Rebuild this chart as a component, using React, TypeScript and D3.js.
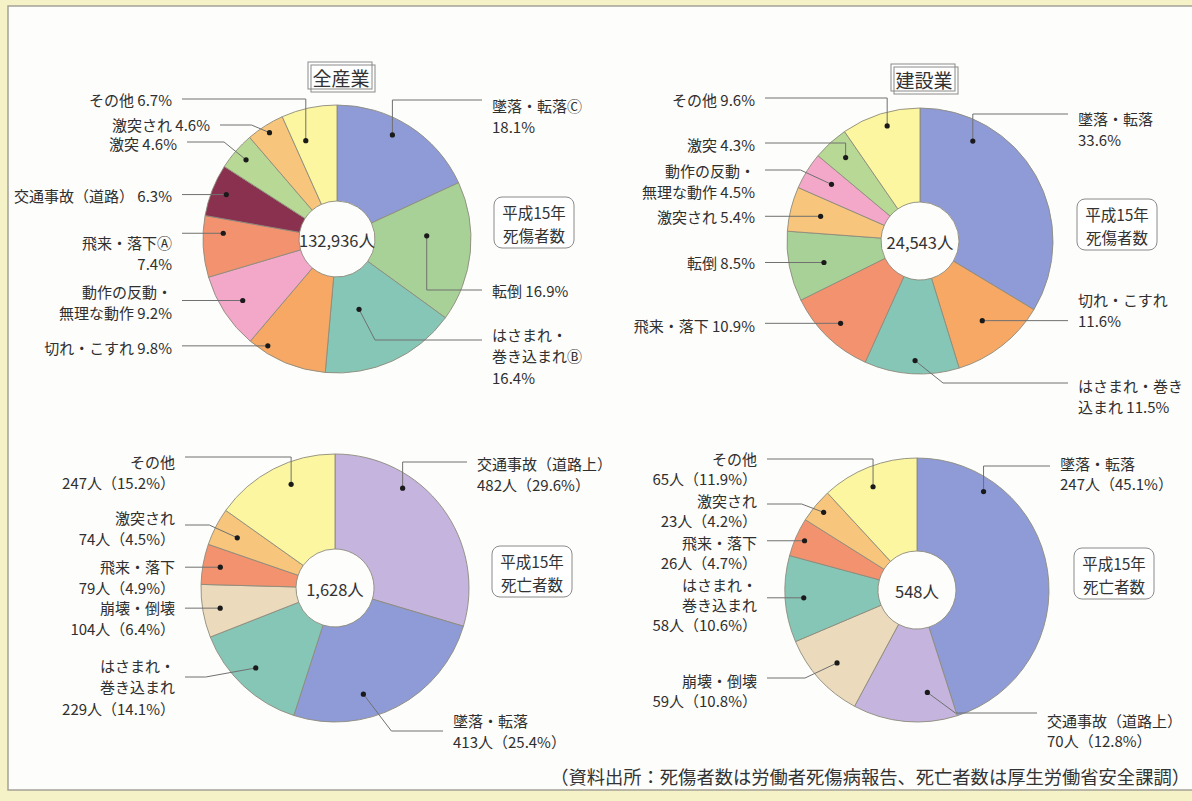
import React from 'react';
import * as d3 from 'd3';

const FONT = '"Noto Sans CJK JP", "Noto Sans", sans-serif';

// ---------- DATA ----------
// 全産業 死傷者数 (平成15年)
const allInjuryCategories = ['墜落・転落', '転倒', 'はさまれ・巻き込まれ', '切れ・こすれ', '動作の反動・無理な動作', '飛来・落下', '交通事故（道路）', '激突', '激突され', 'その他'];
const allInjuryPct = [18.1, 16.9, 16.4, 9.8, 9.2, 7.4, 6.3, 4.6, 4.6, 6.7];
const allInjuryLabels = [['墜落・転落Ⓒ', '{p}%'], ['転倒 {p}%'], ['はさまれ・', '巻き込まれⒷ', '{p}%'], ['切れ・こすれ {p}%'], ['動作の反動・', '無理な動作 {p}%'], ['飛来・落下Ⓐ', '{p}%'], ['交通事故（道路） {p}%'], ['激突 {p}%'], ['激突され {p}%'], ['その他 {p}%']];
const allInjuryTotal = '132,936人';

// 建設業 死傷者数
const conInjuryCategories = ['墜落・転落', '切れ・こすれ', 'はさまれ・巻き込まれ', '飛来・落下', '転倒', '激突され', '動作の反動・無理な動作', '激突', 'その他'];
const conInjuryPct = [33.6, 11.6, 11.5, 10.9, 8.5, 5.4, 4.5, 4.3, 9.6];
const conInjuryLabels = [['墜落・転落', '{p}%'], ['切れ・こすれ', '{p}%'], ['はさまれ・巻き', '込まれ {p}%'], ['飛来・落下 {p}%'], ['転倒 {p}%'], ['激突され {p}%'], ['動作の反動・', '無理な動作 {p}%'], ['激突 {p}%'], ['その他 {p}%']];
const conInjuryTotal = '24,543人';

// 全産業 死亡者数
const allDeathCategories = ['交通事故（道路上）', '墜落・転落', 'はさまれ・巻き込まれ', '崩壊・倒壊', '飛来・落下', '激突され', 'その他'];
const allDeathCounts = [482, 413, 229, 104, 79, 74, 247];
const allDeathPct = [29.6, 25.4, 14.1, 6.4, 4.9, 4.5, 15.2];
const allDeathLabels = [['交通事故（道路上）', '{n}人（{p}%）'], ['墜落・転落', '{n}人（{p}%）'], ['はさまれ・', '巻き込まれ', '{n}人（{p}%）'], ['崩壊・倒壊', '{n}人（{p}%）'], ['飛来・落下', '{n}人（{p}%）'], ['激突され', '{n}人（{p}%）'], ['その他', '{n}人（{p}%）']];

// 建設業 死亡者数
const conDeathCategories = ['墜落・転落', '交通事故（道路上）', '崩壊・倒壊', 'はさまれ・巻き込まれ', '飛来・落下', '激突され', 'その他'];
const conDeathCounts = [247, 70, 59, 58, 26, 23, 65];
const conDeathPct = [45.1, 12.8, 10.8, 10.6, 4.7, 4.2, 11.9];
const conDeathLabels = [['墜落・転落', '{n}人（{p}%）'], ['交通事故（道路上）', '{n}人（{p}%）'], ['崩壊・倒壊', '{n}人（{p}%）'], ['はさまれ・', '巻き込まれ', '{n}人（{p}%）'], ['飛来・落下', '{n}人（{p}%）'], ['激突され', '{n}人（{p}%）'], ['その他', '{n}人（{p}%）']];

const boxInjury = ['平成15年', '死傷者数'];
const boxDeath = ['平成15年', '死亡者数'];
const sourceNote = '（資料出所：死傷者数は労働者死傷病報告、死亡者数は厚生労働省安全課調）';

// ---------- STYLES ----------
const colorByCategory: Record<string, string> = {
  '墜落・転落': '#8f9bd7',
  '転倒': '#a8d198',
  'はさまれ・巻き込まれ': '#86c6b7',
  '切れ・こすれ': '#f6a864',
  '動作の反動・無理な動作': '#f3a8c9',
  '飛来・落下': '#f3926f',
  '交通事故（道路）': '#8b3150',
  '交通事故（道路上）': '#c4b4de',
  '激突': '#b8d996',
  '激突され': '#f7c57b',
  'その他': '#fbf69f',
  '崩壊・倒壊': '#ebdabc',
};

// ---------- LAYOUT (label placement, relative to pie centre) ----------
type L = { side: 'L' | 'R'; ly: number | null; bend: number; tx: number; ty: number; df: number; dr: number };
const layoutTL: L[] = [
  { side: 'R', ly: -139, bend: 0, tx: 155, ty: -134, df: 0.43, dr: 0.88 },
  { side: 'R', ly: 51, bend: 0, tx: 155, ty: 51, df: 0.375, dr: 0.67 },
  { side: 'R', ly: 101, bend: 16, tx: 155, ty: 95, df: 0.62, dr: 0.55 },
  { side: 'L', ly: null, bend: 0, tx: -165, ty: 108, df: 0.79, dr: 0.95 },
  { side: 'L', ly: null, bend: 0, tx: -165, ty: 52, df: 0.5, dr: 0.84 },
  { side: 'L', ly: null, bend: 0, tx: -165, ty: 3, df: 0.73, dr: 0.85 },
  { side: 'L', ly: null, bend: 0, tx: -165, ty: -44, df: 0.52, dr: 0.89 },
  { side: 'L', ly: -97, bend: -22, tx: -160, ty: -96, df: 0.5, dr: 0.9 },
  { side: 'L', ly: -114, bend: -18, tx: -127, ty: -115, df: 0.5, dr: 0.94 },
  { side: 'L', ly: -140, bend: 0, tx: -165, ty: -140, df: 0.27, dr: 0.77 },
];
const layoutTR: L[] = [
  { side: 'R', ly: -127, bend: 0, tx: 158, ty: -123, df: 0.23, dr: 0.85 },
  { side: 'R', ly: null, bend: 0, tx: 158, ty: 58, df: 0.5, dr: 0.76 },
  { side: 'R', ly: 142, bend: 28, tx: 158, ty: 144, df: 0.47, dr: 0.9 },
  { side: 'L', ly: null, bend: 0, tx: -165, ty: 84, df: 0.5, dr: 0.86 },
  { side: 'L', ly: null, bend: 0, tx: -165, ty: 21, df: 0.45, dr: 0.74 },
  { side: 'L', ly: null, bend: 0, tx: -165, ty: -25, df: 0.5, dr: 0.77 },
  { side: 'L', ly: -71, bend: -31, tx: -165, ty: -71, df: 0.55, dr: 0.79 },
  { side: 'L', ly: -98, bend: 0, tx: -165, ty: -97, df: 0.54, dr: 0.84 },
  { side: 'L', ly: -143, bend: 0, tx: -165, ty: -142, df: 0.54, dr: 0.9 },
];
const layoutBL: L[] = [
  { side: 'R', ly: -126, bend: 0, tx: 142, ty: -125, df: 0.32, dr: 0.9 },
  { side: 'R', ly: 143, bend: 28, tx: 118, ty: 132, df: 0.64, dr: 0.82 },
  { side: 'L', ly: 89, bend: -50, tx: -160, ty: 77, df: 0.53, dr: 0.84 },
  { side: 'L', ly: null, bend: 0, tx: -160, ty: 19, df: 0.5, dr: 0.87 },
  { side: 'L', ly: null, bend: 0, tx: -160, ty: -22, df: 0.5, dr: 0.87 },
  { side: 'L', ly: -63, bend: -28, tx: -160, ty: -71, df: 0.5, dr: 0.82 },
  { side: 'L', ly: -131, bend: 0, tx: -160, ty: -127, df: 0.58, dr: 0.84 },
];
const layoutBR: L[] = [
  { side: 'R', ly: -124, bend: 0, tx: 143, ty: -127, df: 0.21, dr: 0.9 },
  { side: 'R', ly: 123, bend: 28, tx: 130, ty: 130, df: 0.26, dr: 0.78 },
  { side: 'L', ly: 88, bend: -32, tx: -160, ty: 90, df: 0.5, dr: 0.82 },
  { side: 'L', ly: null, bend: 0, tx: -160, ty: -6, df: 0.5, dr: 0.86 },
  { side: 'L', ly: null, bend: 0, tx: -160, ty: -48, df: 0.5, dr: 0.93 },
  { side: 'L', ly: -86, bend: -22, tx: -160, ty: -90, df: 0.5, dr: 0.92 },
  { side: 'L', ly: -131, bend: 0, tx: -160, ty: -132, df: 0.46, dr: 0.85 },
];

type PieProps = {
  cx: number; cy: number; R: number; r0: number; lineH: number;
  cats: string[]; values: number[]; pct: number[]; counts?: number[];
  labels: string[][]; layout: L[]; center: string; box: string[]; title?: string;
};

function fmt(t: string, p: number, n?: number) {
  return t.replace('{p}', p.toFixed(1)).replace('{n}', n !== undefined ? String(n) : '');
}

function Pie({ cx, cy, R, r0, lineH, cats, values, pct, counts, labels, layout, center, box, title }: PieProps) {
  const pie = d3.pie<number>().sort(null).value((d) => d)(values);
  const arc = d3.arc<d3.PieArcDatum<number>>().innerRadius(r0).outerRadius(R);
  return (
    <g>
      <g transform={`translate(${cx},${cy})`}>
        {pie.map((p, i) => (
          <path key={i} d={arc(p) || ''} fill={colorByCategory[cats[i]]} stroke="#8d8b7c" strokeWidth={0.9} />
        ))}
      </g>
      <text x={cx} y={cy + 1} textAnchor="middle" dominantBaseline="central" fontSize={16.5} fill="#333" fontFamily={FONT}>{center}</text>
      {pie.map((p, i) => {
        const lay = layout[i];
        const a = p.startAngle + lay.df * (p.endAngle - p.startAngle);
        const rr = lay.dr * R;
        const dx = cx + rr * Math.sin(a);
        const dy = cy - rr * Math.cos(a);
        const endX = lay.side === 'L' ? cx + lay.tx + 10 : cx + lay.tx - 10;
        let pts: [number, number][];
        if (lay.ly === null) pts = [[dx, dy], [endX, dy]];
        else pts = [[dx, dy], [dx + lay.bend, cy + lay.ly], [endX, cy + lay.ly]];
        const line = d3.line()(pts) || '';
        return (
          <g key={i}>
            <path d={line} fill="none" stroke="#707070" strokeWidth={1} />
            <circle cx={dx} cy={dy} r={2.6} fill="#1a1a1a" />
            {labels[i].map((t, j) => (
              <text key={j} x={cx + lay.tx} y={cy + lay.ty + j * lineH} textAnchor={lay.side === 'L' ? 'end' : 'start'} dominantBaseline="central" fontSize={15} fill="#2f2f2f" fontFamily={FONT}>
                {fmt(t, pct[i], counts ? counts[i] : undefined)}
              </text>
            ))}
          </g>
        );
      })}
      <rect x={cx + 157} y={cy - 42} width={80} height={51} rx={8} fill="#fff" stroke="#8a8a8a" strokeWidth={1} />
      {box.map((t, j) => (
        <text key={j} x={cx + 197} y={cy - 27 + j * 23} textAnchor="middle" dominantBaseline="central" fontSize={15.5} fill="#333" fontFamily={FONT}>{t}</text>
      ))}
      {title && (
        <g>
          <rect x={cx - 29} y={cy - 177} width={64} height={27} fill="#fff" stroke="#8a8a8a" strokeWidth={1} />
          <rect x={cx - 26} y={cy - 174} width={64} height={27} fill="none" stroke="#8a8a8a" strokeWidth={1} />
          <text x={cx + 4} y={cy - 162} textAnchor="middle" dominantBaseline="central" fontSize={19} fill="#333" fontFamily={FONT}>{title}</text>
        </g>
      )}
    </g>
  );
}

export default function App() {
  return (
    <svg width={1192} height={801} style={{ position: 'absolute', left: 0, top: 0 }} xmlns="http://www.w3.org/2000/svg">
      <rect x={0} y={0} width={1192} height={801} fill="#f6f2c8" />
      <rect x={8} y={6} width={1200} height={784} fill="#fdfdfb" stroke="#a4a296" strokeWidth={1.5} />
      <Pie cx={337} cy={239} R={134} r0={38} lineH={21.5} cats={allInjuryCategories} values={allInjuryPct} pct={allInjuryPct}
        labels={allInjuryLabels} layout={layoutTL} center={allInjuryTotal} box={boxInjury} title="全産業" />
      <Pie cx={920} cy={241} R={133} r0={39} lineH={21.5} cats={conInjuryCategories} values={conInjuryPct} pct={conInjuryPct}
        labels={conInjuryLabels} layout={layoutTR} center={conInjuryTotal} box={boxInjury} title="建設業" />
      <Pie cx={335} cy={588} R={134} r0={39} lineH={21.5} cats={allDeathCategories} values={allDeathCounts} pct={allDeathPct} counts={allDeathCounts}
        labels={allDeathLabels} layout={layoutBL} center={`${d3.format(',')(d3.sum(allDeathCounts))}人`} box={boxDeath} />
      <Pie cx={917} cy={590} R={132} r0={39} lineH={20} cats={conDeathCategories} values={conDeathCounts} pct={conDeathPct} counts={conDeathCounts}
        labels={conDeathLabels} layout={layoutBR} center={`${d3.format(',')(d3.sum(conDeathCounts))}人`} box={boxDeath} />
      <text x={1190} y={776} textAnchor="end" dominantBaseline="central" fontSize={18.3} fill="#333" fontFamily={FONT}>{sourceNote}</text>
    </svg>
  );
}
